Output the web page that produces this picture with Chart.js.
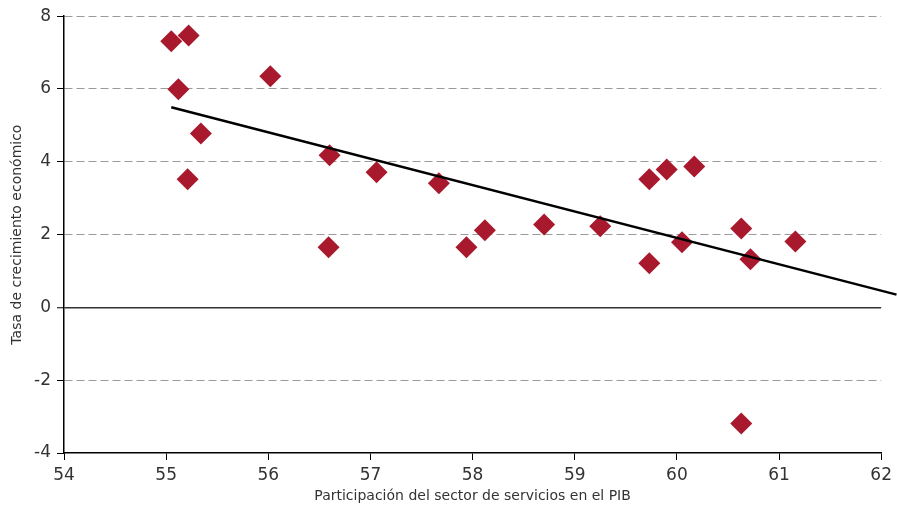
<!DOCTYPE html>
<html>
<head>
<meta charset="utf-8">
<script src="https://cdn.jsdelivr.net/npm/chart.js@4"></script>
<style>
html,body{margin:0;padding:0;background:#fff;}
#wrap{width:897px;height:505px;position:relative;}
</style>
</head>
<body>
<div id="wrap"><canvas id="c"></canvas></div>
<script>
// Data
const servicesShare = [55.05, 55.22, 55.12, 55.34, 55.21, 56.02, 56.60, 56.59, 57.06, 57.67, 57.94, 58.12, 58.70, 59.25, 59.73, 59.90, 60.17, 59.73, 60.05, 60.63, 60.72, 61.16, 60.63];
const growthRate    = [7.31, 7.47, 5.99, 4.78, 3.52, 6.35, 4.18, 1.65, 3.71, 3.41, 1.65, 2.12, 2.28, 2.23, 3.52, 3.79, 3.87, 1.21, 1.79, 2.17, 1.32, 1.81, -3.19];
const trendX = [55.05, 62.15];
const trendY = [5.50, 0.35];
const xTicks = [54, 55, 56, 57, 58, 59, 60, 61, 62];
const yTicks = [-4, -2, 0, 2, 4, 6, 8];
const xTitle = 'Participación del sector de servicios en el PIB';
const yTitle = 'Tasa de crecimiento económico';

const FONT = "'DejaVu Sans', sans-serif";
const STYLE = 'condensed';

const scatterPts = servicesShare.map((x, i) => ({x: x, y: growthRate[i]}));
const trendPts = trendX.map((x, i) => ({x: x, y: trendY[i]}));

new Chart(document.getElementById('c'), {
  data: {
    datasets: [
      {
        type: 'line',
        data: trendPts,
        borderColor: '#000',
        borderWidth: 2.5,
        pointRadius: 0,
        fill: false,
        clip: false,
        order: 0
      },
      {
        type: 'scatter',
        data: scatterPts,
        pointStyle: 'rectRot',
        pointRadius: 11,
        pointHoverRadius: 11,
        backgroundColor: '#A8192E',
        borderColor: '#A8192E',
        borderWidth: 0,
        order: 1
      }
    ]
  },
  options: {
    responsive: true,
    maintainAspectRatio: false,
    animation: false,
    layout: {padding: {top: 15, right: 15, bottom: 0, left: 0}},
    plugins: {legend: {display: false}, tooltip: {enabled: false}},
    scales: {
      x: {
        type: 'linear',
        min: 54, max: 62,
        afterBuildTicks: s => { s.ticks = xTicks.map(v => ({value: v})); },
        afterFit: s => { s.height = 52; },
        ticks: {font: {family: FONT, size: 17, style: STYLE}, color: '#333', padding: 5, maxRotation: 0},
        grid: {drawOnChartArea: false, drawTicks: true, tickLength: 7, tickColor: '#000', tickWidth: 1},
        border: {display: true, color: '#000', width: 1.5},
        title: {display: true, text: xTitle, font: {family: FONT, size: 14, style: STYLE}, color: '#333', padding: {top: 0, bottom: 0}}
      },
      y: {
        type: 'linear',
        min: -4, max: 8,
        afterBuildTicks: s => { s.ticks = yTicks.map(v => ({value: v})); },
        afterFit: s => { s.width = 64; },
        ticks: {font: {family: FONT, size: 17, style: STYLE}, color: '#333', padding: 6},
        grid: {
          drawOnChartArea: true,
          drawTicks: true,
          tickLength: 7,
          tickColor: '#000',
          tickWidth: 1,
          tickBorderDash: [],
          lineWidth: ctx => (ctx.tick && ctx.tick.value === 0) ? 1.5 : 1,
          color: ctx => (ctx.tick && ctx.tick.value === 0) ? '#333' : (ctx.tick && ctx.tick.value === -4 ? 'rgba(0,0,0,0)' : '#9a9a9a')
        },
        border: {
          display: true, color: '#000', width: 1.5,
          dash: ctx => (!ctx.tick || ctx.tick.value === 0) ? [] : [8, 4]
        },
        title: {display: true, text: yTitle, font: {family: FONT, size: 14, style: STYLE}, color: '#333', padding: {top: 9, bottom: 2}}
      }
    }
  }
});
</script>
</body>
</html>
